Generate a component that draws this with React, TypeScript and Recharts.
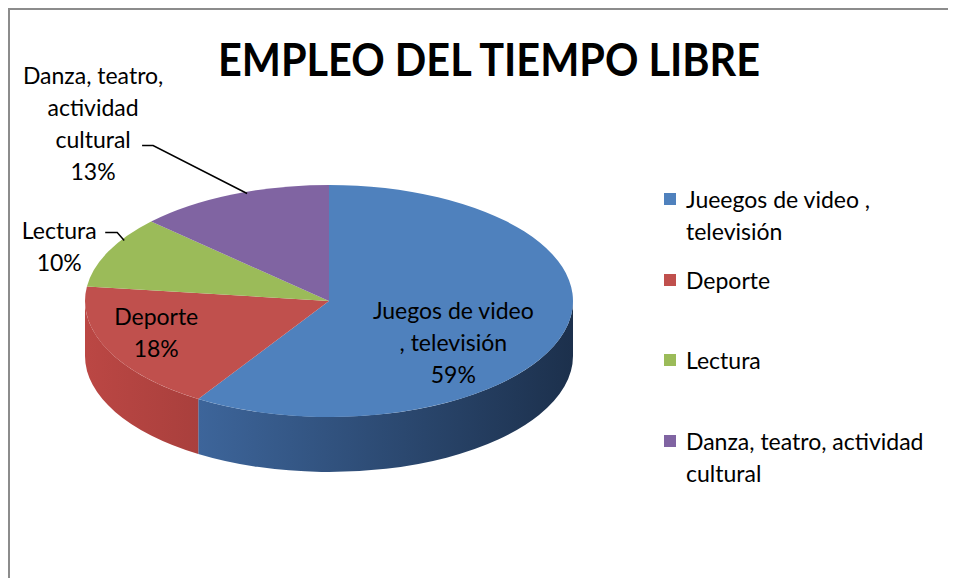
import React from "react";
import { PieChart, Pie, Cell, Legend } from "recharts";

// categories as shown in the legend (the legend keeps the original typo)
const categories = [
  "Jueegos de video , televisión",
  "Deporte",
  "Lectura",
  "Danza, teatro, actividad cultural",
];
const values = [59, 18, 10, 13];
// data label text (edited labels in the original, wrapped by hand)
const labelTexts = [
  ["Juegos de video", ", televisión"],
  ["Deporte"],
  ["Lectura"],
  ["Danza, teatro,", "actividad", "cultural"],
];

const TOP_COLORS = ["#4f81bd", "#c0504d", "#9bbb59", "#8064a2"];
const SIDE_COLORS: Record<string, [string, string]> = {
  "#4f81bd": ["#4775b2", "#1c304c"],
  "#c0504d": ["#bb4744", "#6e2624"],
  "#9bbb59": ["#8cab4e", "#55692d"],
  "#8064a2": ["#735a93", "#45365a"],
};

const FONT = "Lato, 'Open Sans', sans-serif";
const TILT = 116 / 244;
const DEPTH = 55 / 244;
const RAD = Math.PI / 180;

// label placement relative to the slice's edge point at mid angle
const LABEL_LAYOUT = [
  { dx: -110, dy: 9, leader: null as number[][] | null },
  { dx: 48, dy: -18, leader: null },
  { dx: -49, dy: -6, leader: [[46, -13], [58, -13], [65, -5]] },
  { dx: -139, dy: -72, leader: [[49, 23], [60, 23], [154, 71]] },
];

const data = categories.map((name, i) => ({ name, value: values[i] }));

function Slice3D(props: any) {
  const { cx, cy, outerRadius, startAngle, endAngle, fill } = props;
  const rx = outerRadius;
  const ry = outerRadius * TILT;
  const depth = outerRadius * DEPTH;
  const pt = (a: number, dy = 0) =>
    `${cx + rx * Math.cos(a * RAD)},${cy - ry * Math.sin(a * RAD) + dy}`;

  const span = Math.abs(startAngle - endAngle);
  const top = `M${cx},${cy} L${pt(startAngle)} A${rx},${ry} 0 ${span > 180 ? 1 : 0} ${
    startAngle > endAngle ? 1 : 0
  } ${pt(endAngle)} Z`;

  // front wall: only the part of the rim on the lower half is visible
  const lo = Math.max(Math.min(startAngle, endAngle), -180);
  const hi = Math.min(Math.max(startAngle, endAngle), 0);
  let side = null;
  const gid = `side-${fill.replace("#", "")}`;
  if (hi - lo > 0.01) {
    const large = hi - lo > 180 ? 1 : 0;
    side = `M${pt(hi)} A${rx},${ry} 0 ${large} 1 ${pt(lo)} L${pt(lo, depth)} A${rx},${ry} 0 ${large} 0 ${pt(
      hi,
      depth
    )} Z`;
  }
  const [c1, c2] = SIDE_COLORS[fill] || [fill, fill];

  return (
    <g>
      <defs>
        <linearGradient id={gid} gradientUnits="userSpaceOnUse" x1={cx - rx} y1={0} x2={cx + rx} y2={0}>
          <stop offset="0%" stopColor={c1} />
          <stop offset="100%" stopColor={c2} />
        </linearGradient>
      </defs>
      {side && <path d={side} fill={`url(#${gid})`} />}
      <path d={top} fill={fill} />
    </g>
  );
}

function renderLabel(props: any) {
  const { cx, cy, outerRadius, midAngle, percent, index } = props;
  const rx = outerRadius;
  const ry = outerRadius * TILT;
  const ex = cx + rx * Math.cos(midAngle * RAD);
  const ey = cy - ry * Math.sin(midAngle * RAD);
  const lay = LABEL_LAYOUT[index];
  const x = ex + lay.dx;
  const y = ey + lay.dy;
  const lines = [...labelTexts[index], `${Math.round(percent * 100)}%`];
  const lh = 32;
  const y0 = y - ((lines.length - 1) * lh) / 2;
  return (
    <g key={`lbl-${index}`}>
      {lay.leader && (
        <polyline
          points={lay.leader.map(([px, py]) => `${x + px},${y + py}`).join(" ")}
          fill="none"
          stroke="#000"
          strokeWidth={1.5}
        />
      )}
      {lines.map((t, i) => (
        <text
          key={i}
          x={x}
          y={y0 + i * lh}
          textAnchor="middle"
          dominantBaseline="central"
          fontFamily={FONT}
          fontSize={23}
          fill="#000"
        >
          {t}
        </text>
      ))}
    </g>
  );
}

function renderLegend(props: any) {
  // keep the data order (the library sorts legend items by name)
  const items = [...(props.payload || [])].sort(
    (a: any, b: any) => categories.indexOf(a.value) - categories.indexOf(b.value)
  );
  return (
    <div style={{ fontFamily: FONT, fontSize: 23, color: "#000" }}>
      {items.map((entry: any, i: number) => (
        <div key={i} style={{ display: "flex", alignItems: "flex-start", height: 80.7 }}>
          <span
            style={{
              display: "inline-block",
              width: 12,
              height: 12,
              flex: "0 0 12px",
              marginTop: 10,
              marginRight: 10,
              background: entry.color,
            }}
          />
          <span style={{ width: 268, lineHeight: "32px" }}>{entry.value}</span>
        </div>
      ))}
    </div>
  );
}

export default function App() {
  return (
    <div style={{ position: "relative", width: 948, height: 570, overflow: "hidden", fontFamily: FONT }}>
      <div
        style={{
          position: "absolute",
          left: 0,
          top: 0,
          right: 0,
          bottom: 0,
          borderTop: "2px solid #8c8c8c",
          borderLeft: "2px solid #8c8c8c",
        }}
      />
      <svg width={948} height={100} style={{ position: "absolute", left: 0, top: 0 }}>
        <text
          x={481}
          y={68}
          textAnchor="middle"
          fontFamily={FONT}
          fontWeight={700}
          fontSize={45}
          textLength={542}
          lengthAdjust="spacingAndGlyphs"
          fill="#000"
        >
          EMPLEO DEL TIEMPO LIBRE
        </text>
      </svg>
      <div style={{ position: "absolute", left: 0, top: 0 }}>
        <PieChart width={948} height={570} margin={{ top: 0, right: 0, bottom: 0, left: 0 }}>
          <Pie
            data={data}
            dataKey="value"
            nameKey="name"
            cx={321}
            cy={293}
            outerRadius={244}
            startAngle={90}
            endAngle={-270}
            stroke="none"
            isAnimationActive={false}
            labelLine={false}
            label={renderLabel}
            shape={Slice3D}
            activeShape={Slice3D}
            inactiveShape={Slice3D}
          >
            {data.map((d, i) => (
              <Cell key={d.name} fill={TOP_COLORS[i]} />
            ))}
          </Pie>
          <Legend
            content={renderLegend}
            layout="vertical"
            verticalAlign="top"
            align="right"
            itemSorter={null as any}
            wrapperStyle={{ left: 656, top: 175, width: 292 }}
          />
        </PieChart>
      </div>
    </div>
  );
}
